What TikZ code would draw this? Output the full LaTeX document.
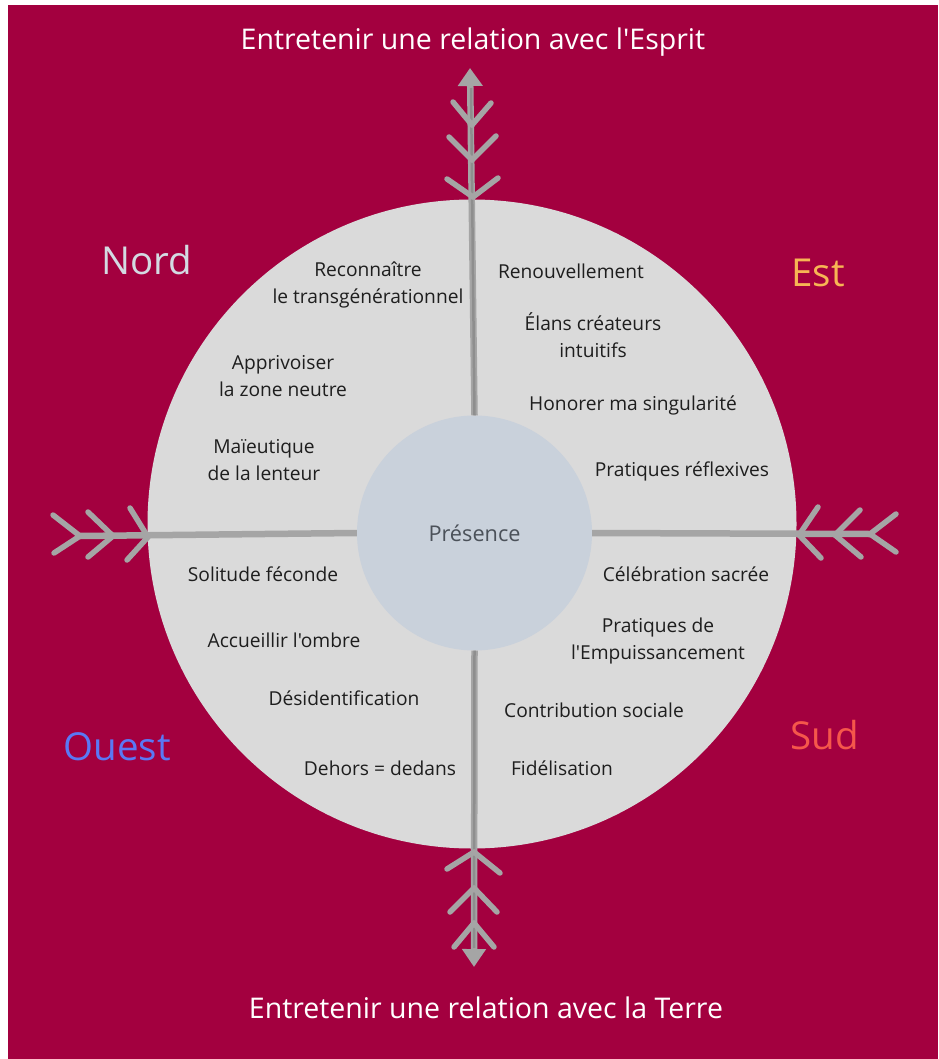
\documentclass[tikz,border=0pt]{standalone}
\usepackage{fontspec}
\setmainfont{Open Sans}[Ligatures=TeXOff]
\usetikzlibrary{arrows.meta}
\definecolor{crimson}{HTML}{A3003F}
\definecolor{disk}{HTML}{DADADA}
\definecolor{core}{HTML}{C9D1DB}
\definecolor{feather}{HTML}{A5A5A5}
\definecolor{shaftdark}{HTML}{8E8E8E}
\definecolor{nordc}{HTML}{D3DAE2}
\definecolor{estc}{HTML}{F7B554}
\definecolor{ouestc}{HTML}{5A78F5}
\definecolor{sudc}{HTML}{F5574B}
\definecolor{ink}{HTML}{1E1E1E}
\definecolor{presc}{HTML}{4B5159}
\newcommand\featherarms[5]{%
  \draw[arm] (#1) -- ++(#2,#3);
  \draw[arm] (#1) -- ++(#4,#5);}
\begin{document}
\begin{tikzpicture}[x=1pt,y=-1pt,
  shaft/.style={draw=feather, line width=6.5pt},
  core line/.style={draw=shaftdark, line width=2.5pt},
  arm/.style={draw=feather, line width=5.5pt, line cap=round},
  lbl/.style={text=ink, font=\fontsize{19.2}{26.5}\selectfont, align=center, inner sep=0pt},
  title/.style={text=white, font=\fontsize{28.5}{32}\selectfont, inner sep=0pt},
  dir/.style={font=\fontsize{38.5}{42}\selectfont, inner sep=0pt}]
\useasboundingbox (0,0) rectangle (938,1059);
\fill[white] (0,0) rectangle (938,1059);
\fill[crimson] (8,5) rectangle (938,1059);

\node[circle, fill=disk, minimum size=649pt, inner sep=0pt] (disk) at (472,524) {};
\node[circle, fill=core, minimum size=235pt, inner sep=0pt] (pres) at (474.5,533)
  {\color{presc}\fontsize{21.7}{25}\selectfont Présence};

% tips / ends
\coordinate (ntip) at (470,68);
\coordinate (stip) at (474,967);
\coordinate (wend) at (80,536);
\coordinate (eend) at (870,534);

% shafts
\draw[shaft, -{Triangle[width=24pt,length=18pt]}] (pres.north) -- (ntip);
\draw[core line] (pres.north) -- (471,88);
\draw[shaft, -{Triangle[width=23pt,length=18pt]}] (pres.south) -- (stip);
\draw[core line] (pres.south) -- (474,948);
\draw[shaft] (pres.west) -- (wend);
\draw[shaft] (pres.east) -- (eend);

% feathers north
\coordinate (n1) at (472,125);
\coordinate (n2) at (472,160);
\coordinate (n3) at (473,197);
\featherarms{n1}{-19}{-23}{19}{-22}
\featherarms{n2}{-23}{-23}{24}{-24}
\featherarms{n3}{-26}{-18}{25}{-19}
% feathers south
\coordinate (s1) at (474,852);
\coordinate (s2) at (474,888);
\coordinate (s3) at (474,923);
\featherarms{s1}{-27}{17}{26}{21}
\featherarms{s2}{-24}{24}{23}{24}
\featherarms{s3}{-20}{24}{20}{24}
% feathers west
\coordinate (w1) at (80,536);
\coordinate (w2) at (113,536);
\coordinate (w3) at (148,537);
\featherarms{w1}{-27}{-21}{-26}{17}
\featherarms{w2}{-25}{-24}{-25}{21}
\featherarms{w3}{-18}{-29}{-21}{23}
% feathers east
\coordinate (e1) at (799,535);
\coordinate (e2) at (835,535);
\coordinate (e3) at (870,534);
\featherarms{e1}{19}{-28}{22}{23}
\featherarms{e2}{25}{-25}{26}{22}
\featherarms{e3}{26}{-20}{26}{18}

% titles
\node[title] (ttop) at (473,42) {Entretenir une relation avec l'Esprit};
\node[title] (tbot) at (486,1008) {Entretenir une relation avec la Terre};

% directions
\node[dir, text=nordc] (nord) at (147,260) {Nord};
\node[dir, text=estc] (est) at (818,273) {Est};
\node[dir, text=ouestc] (ouest) at (117,747) {Ouest};
\node[dir, text=sudc] (sud) at (825,735) {Sud};

% labels
\node[lbl] (l1) at (368,285) {Reconnaître\\le transgénérationnel};
\node[lbl] (l2) at (571,271) {Renouvellement};
\node[lbl] (l3) at (593,335) {Élans créateurs\\intuitifs};
\node[lbl] (l4) at (283,376) {Apprivoiser\\la zone neutre};
\node[lbl] (l5) at (633,405) {Honorer ma singularité};
\node[lbl] (l6) at (264,460) {Maïeutique\\de la lenteur};
\node[lbl] (l7) at (682,471) {Pratiques réflexives};
\node[lbl] (l8) at (263,574) {Solitude féconde};
\node[lbl] (l9) at (686,574) {Célébration sacrée};
\node[lbl] (l10) at (284,640) {Accueillir l'ombre};
\node[lbl] (l11) at (658,641) {Pratiques de\\l'Empuissancement};
\node[lbl] (l12) at (344,698) {Désidentification};
\node[lbl] (l13) at (594,710) {Contribution sociale};
\node[lbl] (l14) at (380,768) {Dehors = dedans};
\node[lbl] (l15) at (562,768) {Fidélisation};
\end{tikzpicture}
\end{document}
